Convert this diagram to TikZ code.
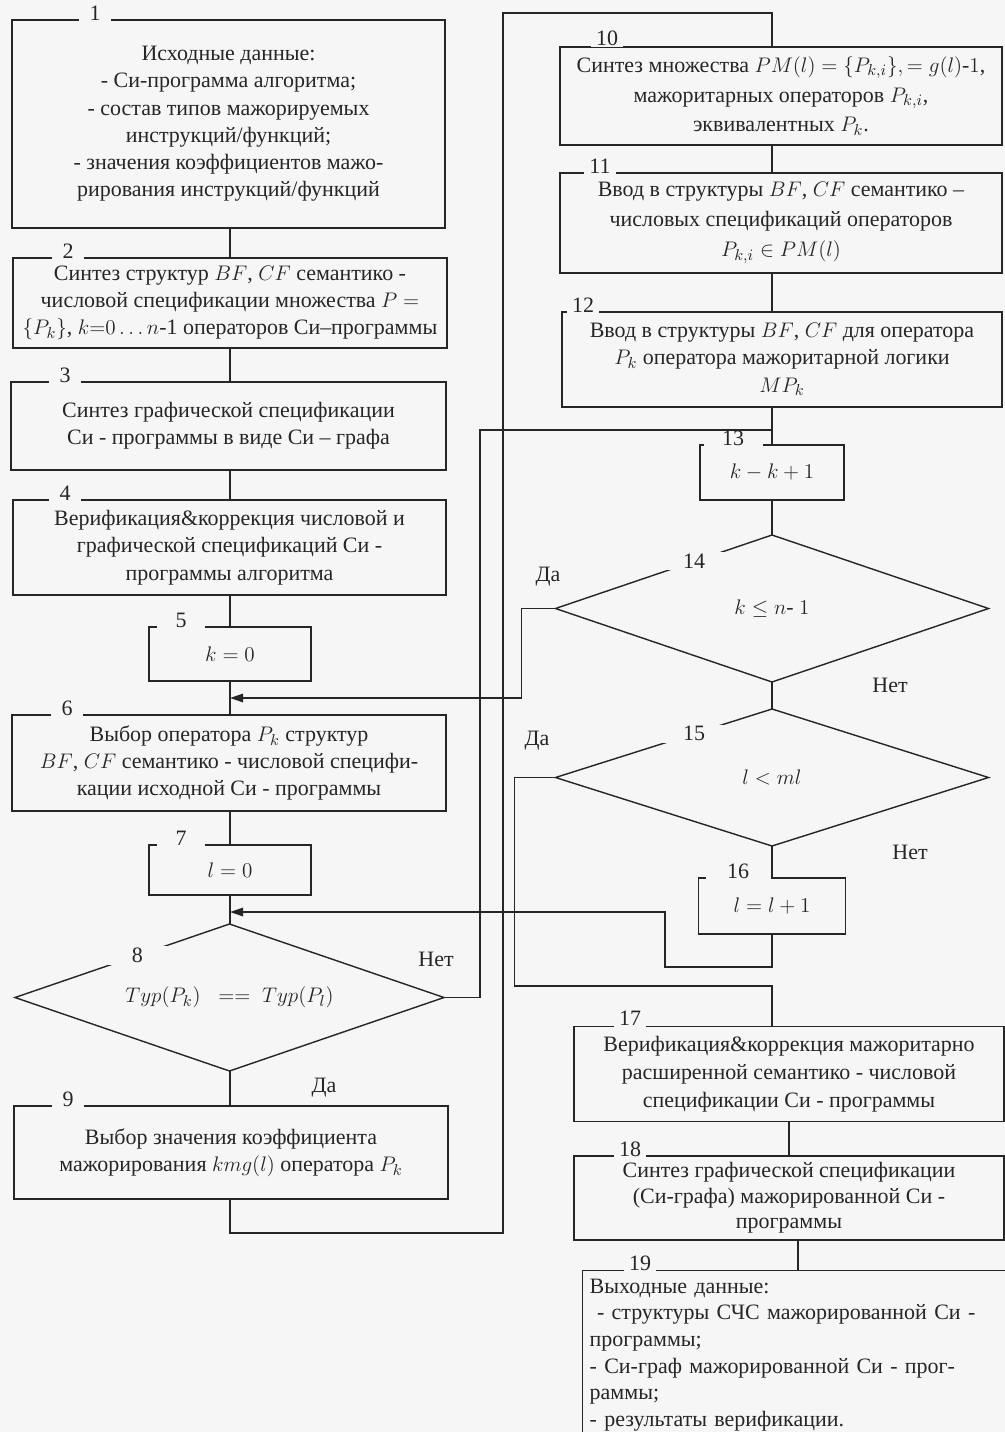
\documentclass[tikz,border=0pt]{standalone}
\usepackage{amsmath}
\usepackage{amssymb}
\usepackage{fontspec}
\setmainfont{Liberation Serif}
\usepackage{xcolor}
\usepackage{tikz}
\usetikzlibrary{calc,positioning,arrows.meta,shapes.geometric}
\definecolor{pagebg}{RGB}{246,246,246}
\begin{document}
\begin{tikzpicture}[
    x=0.2mm, y=-0.2mm,
    line width=0.8pt,
    color=black!85,
    font=\fontsize{12.5}{15.5}\selectfont,
    stepbox/.style = {
        draw,
        align=center,
        inner sep=0pt,
        outer sep=0pt
    },
    testbox/.style = {
        draw,
        diamond,
        inner sep=0pt,
        outer sep=0pt
    },
    numlab/.style = {
        fill=pagebg,
        inner sep=1pt,
        minimum width=6.5mm,
        yshift=1.4mm
    },
    widelab/.style = {
        numlab,
        minimum width=9.5mm
    },
    anslab/.style = {
        inner sep=0pt
    },
    backarrow/.style = {
        -{Triangle[length=2.6mm, width=1.7mm]}
    }
]

% --- Page ---
\useasboundingbox (0,0) rectangle (1005,1432);
\fill[pagebg] (0,0) rectangle (1005,1432);
\clip (0,0) rectangle (1005,1432);

\coordinate (lc) at (230,0);
\coordinate (rc) at (772,0);

% --- Left column ---
\node[stepbox, minimum width=86.6mm, minimum height=41.6mm] (b1) at (228.5,124)
    {Исходные данные:\\- Си-программа алгоритма;\\- состав типов мажорируемых\\инструкций/функций;\\- значения коэффициентов мажо-\\рирования инструкций/функций};
\node[stepbox, minimum width=86.8mm, minimum height=18mm] (b2) at (230,303)
    {Синтез структур $BF$, $CF$ семантико -\\числовой спецификации множества $P =$\\$\{P_k\}$, $k{=}0\ldots n$-1 операторов Си–программы};
\node[stepbox, minimum width=87mm, minimum height=17.6mm] (b3) at (228.5,426)
    {Синтез графической спецификации\\Си - программы в виде Си – графа};
\node[stepbox, minimum width=86.6mm, minimum height=19mm] (b4) at (229.5,547.5)
    {Верификация\&коррекция числовой и\\графической спецификаций Си -\\программы алгоритма};
\node[stepbox, minimum width=32.4mm, minimum height=10.8mm] (b5) at (230,654) {$k = 0$};
\node[stepbox, minimum width=86.8mm, minimum height=19.2mm] (b6) at (229,763)
    {Выбор оператора $P_k$ структур\\$BF$, $CF$ семантико - числовой специфи-\\кации исходной Си - программы};
\node[stepbox, minimum width=32.4mm, minimum height=10mm] (b7) at (230,870) {$l = 0$};
\node[testbox, aspect=2.92, minimum width=85.8mm, minimum height=29.4mm] (d8) at (229.5,997.5)
    {$Typ(P_k)\;\;==\;Typ(P_l)$};
\node[stepbox, minimum width=86.8mm, minimum height=18.6mm] (b9) at (231,1152.5)
    {Выбор значения коэффициента\\мажорирования $kmg(l)$ оператора $P_k$};

% --- Right column ---
\node[stepbox, minimum width=88.4mm, minimum height=19.6mm, font=\fontsize{12.5}{17}\selectfont] (b10) at (781,96)
    {Синтез множества $PM(l) = \{P_{k,i}\}, = g(l)$-$1$,\\мажоритарных операторов $P_{k,i}$,\\эквивалентных $P_k$.};
\node[stepbox, minimum width=88.4mm, minimum height=20mm, font=\fontsize{12.5}{17}\selectfont] (b11) at (781,223)
    {Ввод в структуры $BF$, $CF$ семантико –\\числовых спецификаций операторов\\$P_{k,i} \in PM(l)$};
\node[stepbox, minimum width=88mm, minimum height=19mm] (b12) at (782,359.5)
    {Ввод в структуры $BF$, $CF$ для оператора\\$P_k$ оператора мажоритарной логики\\$MP_k$};
\node[stepbox, minimum width=28.8mm, minimum height=11mm] (b13) at (772,472.5) {$k - k+1$};
\node[testbox, aspect=2.95, minimum width=86.6mm, minimum height=29.4mm] (d14) at (772,608.5) {$k \leq n$- $1$};
\node[testbox, aspect=3.16, minimum width=86.6mm, minimum height=27.4mm] (d15) at (772,777.5) {$l < ml$};
\node[stepbox, minimum width=29.4mm, minimum height=11.2mm] (b16) at (772,906) {$l = l+1$};
\node[stepbox, minimum width=86mm, minimum height=19mm, font=\fontsize{12.5}{16}\selectfont] (b17) at (789,1074)
    {Верификация\&коррекция мажоритарно\\расширенной семантико - числовой\\спецификации Си - программы};
\node[stepbox, minimum width=86mm, minimum height=16.8mm, font=\fontsize{12.5}{14.5}\selectfont] (b18) at (789,1198)
    {Синтез графической спецификации\\(Си-графа) мажорированной Си -\\программы};
\node[draw, anchor=north west, align=left, text width=88mm, inner xsep=1.4mm, inner ysep=1.6mm,
      font=\fontsize{12.5}{15.2}\selectfont] (b19) at (582,1270)
    {Выходные данные:\\\ - структуры СЧС мажорированной Си -\\программы;\\- Си-граф мажорированной Си - прог-\\раммы;\\- результаты верификации.};

% --- Step numbers ---
\node[numlab] at (95,20) {1};
\node[numlab] at (68,258) {2};
\node[numlab] at (65,382) {3};
\node[numlab] at (65,500) {4};
\node[widelab] at (181,627) {5};
\node[numlab] at (67,715) {6};
\node[widelab] at (181,845) {7};
\node[numlab, yshift=-1.4mm, minimum width=12mm] at ($(d8.west)!0.57!(d8.north)$) {8};
\node[numlab] at (68,1106) {9};
\node[numlab] at (607,45) {10};
\node[numlab] at (600,173) {11};
\node[numlab] at (583,312) {12};
\node[numlab, minimum width=11.8mm] at (733,445) {13};
\node[numlab, yshift=-1.4mm, minimum width=13mm] at ($(d14.west)!0.64!(d14.north)$) {14};
\node[numlab, yshift=-1.4mm, minimum width=13mm] at ($(d15.west)!0.64!(d15.north)$) {15};
\node[numlab, minimum width=13mm] at (738,878) {16};
\node[numlab] at (630,1025) {17};
\node[numlab] at (630,1156) {18};
\node[numlab] at (640,1270) {19};

% --- Answers ---
\node[anslab] at (436,959) {Нет};
\node[anslab] at (324,1088) {Да};
\node[anslab] at (548,577) {Да};
\node[anslab] at (890,685) {Нет};
\node[anslab] at (537,741) {Да};
\node[anslab] at (910,852) {Нет};

% --- Straight flow ---
\coordinate (m6) at (230,698);
\coordinate (m8) at (230,912);
\coordinate (m13) at (772,430);
\coordinate (m17) at (772,986);
\coordinate (c10) at (503,13);
\coordinate (k16) at (665,912);

\draw (b1.south -| lc) -- (b2.north -| lc);
\draw (b2.south -| lc) -- (b3.north -| lc);
\draw (b3.south -| lc) -- (b4.north -| lc);
\draw (b4.south -| lc) -- (b5.north -| lc);
\draw (b5.south -| lc) -- (b6.north -| lc);
\draw (b6.south -| lc) -- (b7.north -| lc);
\draw (b7.south -| lc) -- (d8.north -| lc);
\draw (d8.south -| lc) -- (b9.north -| lc);

\draw (b10.south -| rc) -- (b11.north -| rc);
\draw (b11.south -| rc) -- (b12.north -| rc);
\draw (b12.south -| rc) -- (b13.north);
\draw (b13.south) -- (d14.north);
\draw (d14.south) -- (d15.north);
\draw (d15.south) -- (b16.north);
\draw (b17.south) -- (b18.north);
\draw ([xshift=1.8mm]b18.south) -- ([xshift=1.8mm]b18.south |- b19.north);

% --- Loops ---
\draw (b9.south -| lc) -- ++(0,34) -| (c10) -| (b10.north -| rc);
\draw (d8.east) -- ++(36,0) |- (m13);
\draw[backarrow] (d14.west) -- ++(-34,0) |- (m6);
\draw (d15.west) -- ++(-41,0) |- (m17) -- (b17.north -| m17);
\draw[backarrow] (b16.south) -- ++(0,33) -| (k16) -- (m8);

\end{tikzpicture}
\end{document}
